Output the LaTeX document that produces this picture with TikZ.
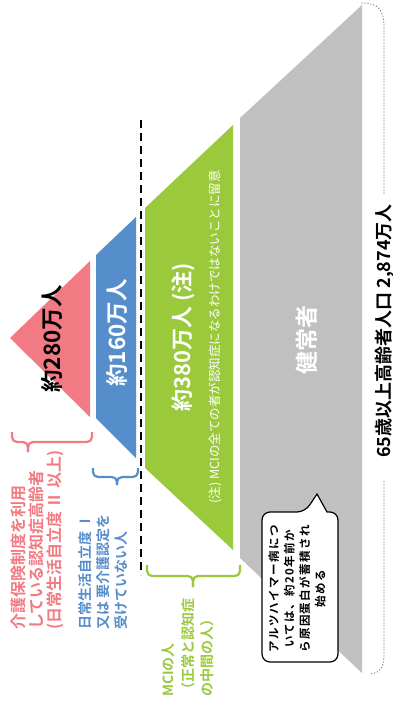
\documentclass[tikz,border=0pt]{standalone}
\usepackage{fontspec}
\setmainfont{Noto Sans CJK JP}[BoldFont={Noto Sans CJK JP Bold}]
\definecolor{cpink}{HTML}{F27A82}
\definecolor{cblue}{HTML}{568DCB}
\definecolor{cgreen}{HTML}{9BC93C}
\definecolor{cgray}{HTML}{C0C0C0}
\definecolor{cdot}{HTML}{666666}
\tikzset{
  lbl/.style={rotate=90, inner sep=0pt, font=\bfseries},
  bracestyle/.style={line width=2.2pt, rounded corners=5pt},
  multi/.style={rotate=90, inner sep=0pt, align=left, anchor=west, font=\bfseries},
}
\begin{document}
\begin{tikzpicture}[x=1pt, y=-1pt]
\useasboundingbox (0,0) rectangle (392,715);
% shapes
\fill[cgray] (240,118) -- (362,5) -- (362,673) -- (240,558) -- cycle;
\fill[cgreen] (145,208) -- (233,125) -- (233,550) -- (145,468) -- cycle;
\fill[cblue] (96,255) -- (136,217) -- (136,458) -- (96,418) -- cycle;
\fill[cpink] (10,338) -- (90,261) -- (90,417) -- cycle;
% dashed divider
\draw[line width=2pt, dash pattern=on 8pt off 5pt] (141,120) -- (141,575);
% main labels
\node[lbl, text=black, font=\bfseries\fontsize{22.5}{24}\selectfont] (n280) at (52,339) {約280万人};
\node[lbl, text=white, font=\bfseries\fontsize{22.5}{24}\selectfont] (n160) at (117,333) {約160万人};
\node[lbl, text=white, font=\bfseries\fontsize{22}{24}\selectfont] (n380) at (183,337) {約380万人 (注)};
\node[rotate=90, inner sep=0pt, text=white, font=\fontsize{12.5}{14}\selectfont] (note) at (215,337) {(注) MCIの全ての者が認知症になるわけではないことに留意};
\node[lbl, text=white, font=\bfseries\fontsize{23}{25}\selectfont] (healthy) at (307,340) {健常者};
\node[lbl, text=black, font=\bfseries\fontsize{18}{20}\selectfont] (total) at (385,331) {65歳以上高齢者人口 2,874万人};
% dotted bracket
\draw[cdot, line width=1.3pt, line cap=round, dash pattern=on 0pt off 3pt]
  (362,3) .. controls (378,3) and (384,10) .. (384,26) -- (384,195);
\draw[cdot, line width=1.3pt, line cap=round, dash pattern=on 0pt off 3pt]
  (384,482) -- (384,655) .. controls (384,668) and (380,673) .. (370,674);
% braces
\draw[cpink, bracestyle] (12,432) -- (12,442) -- (28,442) -- (28,452);
\draw[cpink, bracestyle] (92,432) -- (92,442) -- (28,442) -- (28,452);
\draw[cblue, bracestyle] (93,468) -- (93,477) -- (117,477) -- (117,485);
\draw[cblue, bracestyle] (138,468) -- (138,477) -- (117,477) -- (117,485);
\draw[cgreen, bracestyle] (147,565) -- (147,576) -- (193,576) -- (193,587);
\draw[cgreen, bracestyle] (240,565) -- (240,576) -- (193,576) -- (193,587);
% brace labels
\node[multi, text=cpink, font=\bfseries\fontsize{16}{18}\selectfont] (pinktxt) at (37,630)
  {介護保険制度を利用\\している認知症高齢者\\(日常生活自立度 Ⅱ 以上)};
\node[multi, text=cblue, font=\bfseries\fontsize{14}{18}\selectfont] (bluetxt) at (103,630)
  {日常生活自立度 Ⅰ\\又は 要介護認定を\\受けていない人};
\node[multi, text=cgreen, font=\bfseries\fontsize{14}{19.5}\selectfont] (greentxt) at (188,697)
  {MCIの人\\（正常と認知症\\の中間の人）};
% callout
\draw[fill=white, line width=1.2pt, rounded corners=8pt]
  (262,587) |- (305,512) [sharp corners] -- (317,494) -- (327,512) [rounded corners=8pt] -| (338,587) |- (262,662) -- cycle;
\node[rotate=90, inner sep=0pt, align=center, font=\bfseries\fontsize{11.5}{15.5}\selectfont\addfontfeature{LetterSpace=12}] (callout) at (297,589)
  {アルツハイマー病につ\\いては、約20年前か\\ら原因蛋白が蓄積され\\始める};
\end{tikzpicture}
\end{document}
